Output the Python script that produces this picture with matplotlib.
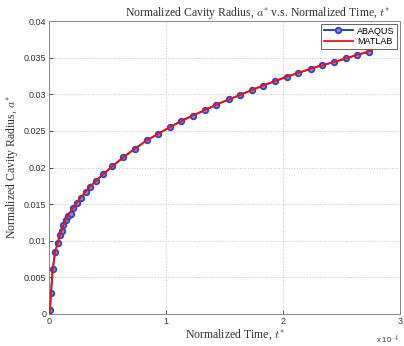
import matplotlib
matplotlib.use("Agg")
import matplotlib.pyplot as plt

# ABAQUS data (time in units of 1e-4)
abaqus_t = [0.006, 0.015, 0.029, 0.049, 0.072, 0.092, 0.106, 0.12, 0.143, 0.157,
            0.183, 0.205, 0.24, 0.268, 0.311, 0.348, 0.40, 0.462, 0.54, 0.633,
            0.733, 0.833, 0.93, 1.03, 1.13, 1.227, 1.33, 1.43, 1.535, 1.63,
            1.73, 1.83, 1.93, 2.03, 2.13, 2.236, 2.335, 2.435, 2.54, 2.635, 2.735]
abaqus_a = [0.00055, 0.0029, 0.0061, 0.0084, 0.0097, 0.0108, 0.0113, 0.0121, 0.0128, 0.0134,
            0.0137, 0.0145, 0.0152, 0.0159, 0.0166, 0.0174, 0.0182, 0.0191, 0.0202, 0.0214,
            0.0226, 0.0237, 0.0246, 0.0255, 0.0264, 0.0271, 0.0278, 0.0286, 0.0293, 0.0299,
            0.0306, 0.0312, 0.0318, 0.0324, 0.0329, 0.0335, 0.0340, 0.0344, 0.0349, 0.0354, 0.0358]

# MATLAB data
matlab_t = [0.0, 0.006, 0.015, 0.029, 0.049, 0.072, 0.092, 0.12, 0.157, 0.205,
            0.268, 0.348, 0.462, 0.633, 0.833, 1.03, 1.227, 1.43, 1.63, 1.83,
            2.03, 2.236, 2.435, 2.635, 2.76]
matlab_a = [0.0, 0.00055, 0.0029, 0.0061, 0.0084, 0.0097, 0.0108, 0.0121, 0.0134, 0.0145,
            0.0159, 0.0174, 0.0191, 0.0214, 0.0237, 0.0255, 0.0271, 0.0286, 0.0299, 0.0312,
            0.0324, 0.0335, 0.0344, 0.0354, 0.0360]

x_ticks = [0, 1, 2, 3]
y_ticks = [0, 0.005, 0.01, 0.015, 0.02, 0.025, 0.03, 0.035, 0.04]
y_ticklabels = ["0", "0.005", "0.01", "0.015", "0.02", "0.025", "0.03", "0.035", "0.04"]

plt.rcParams['mathtext.fontset'] = 'cm'
serif = ['Liberation Serif', 'DejaVu Serif']
sans = ['Liberation Sans', 'DejaVu Sans']

fig = plt.figure(figsize=(4.04, 3.46), dpi=100)
ax = fig.add_axes([0.122, 0.0925, 0.868, 0.8465])

ax.plot(abaqus_t, abaqus_a, color='#2233aa', lw=1.3, marker='o', ms=4,
        mfc='#8888cc', mec='#3344bb', mew=1.3, label='ABAQUS', zorder=2)
ax.plot(matlab_t, matlab_a, color='#ee1111', lw=1.3, label='MATLAB', zorder=3)

ax.set_xlim(0, 3)
ax.set_ylim(0, 0.04)
ax.set_xticks(x_ticks)
ax.set_xticklabels([str(v) for v in x_ticks], family=sans, fontsize=6.5)
ax.set_yticks(y_ticks)
ax.set_yticklabels(y_ticklabels, family=sans, fontsize=6.5)
ax.tick_params(direction='in', length=3, width=0.6, colors='#333333', pad=2)
ax.grid(True, linestyle=':', color='#c4c4c4', lw=0.7)
for s in ax.spines.values():
    s.set_color('#888888')
    s.set_linewidth(0.7)

ax.set_title(r"Normalized Cavity Radius, $a^{*}$ v.s. Normalized Time, $t^{*}$",
             family=serif, fontsize=8.5, x=0.593, pad=3, color='#333333')
ax.set_xlabel(r"Normalized Time, $t^{*}$", family=serif, fontsize=8.5,
              labelpad=1, color='#333333')
ax.xaxis.set_label_coords(0.53, -0.045)
ax.set_ylabel(r"Normalized Cavity Radius, $a^{*}$", family=serif, fontsize=8.5,
              labelpad=3, color='#333333')
ax.text(1.0, -0.065, r"x 10$^{-4}$", transform=ax.transAxes, family=sans,
        fontsize=5.5, ha='right', va='top', color='#333333')

leg = ax.legend(loc='upper right', prop={'family': sans, 'size': 6.5},
                fancybox=False, framealpha=1, edgecolor='#666666',
                borderpad=0.3, handlelength=3.2, labelspacing=0.2,
                handletextpad=0.5, borderaxespad=0.3)
leg.get_frame().set_linewidth(0.7)

fig.savefig("out.png", dpi=100)
